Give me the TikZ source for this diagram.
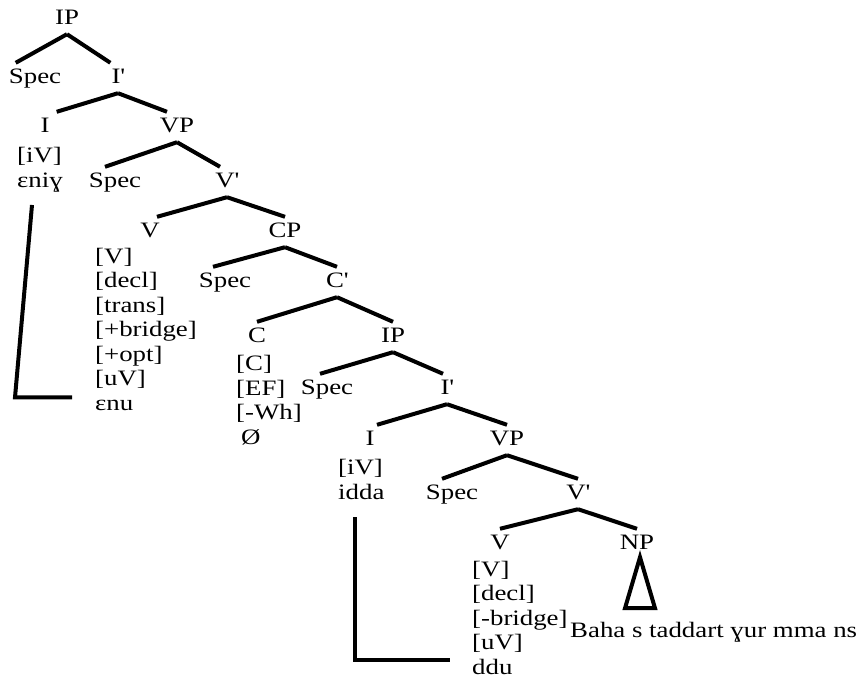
\documentclass[tikz,border=0pt]{standalone}
\usepackage{fontspec}
\setmainfont{Liberation Serif}[FakeStretch=1.22]
\usetikzlibrary{positioning}

\begin{document}
\begin{tikzpicture}[x=1pt, y=-1pt,
    every node/.style={font=\fontsize{22}{25}\selectfont},
    cat/.style={anchor=base, inner xsep=1pt, inner ysep=6pt, text height=14pt, text depth=4pt},
    feat/.style={anchor=base west, align=left, inner sep=0pt, font=\fontsize{22}{24.5}\selectfont},
    branch/.style={line width=4pt},
    trace/.style={line width=4pt}]
    \useasboundingbox (0,0) rectangle (861,680);

    % Category labels (top to bottom)
    \node[cat] (IPtop) at (67,24) {IP};
    \node[cat] (SpecA) at (35,83) {Spec};
    \node[cat] (IbarA) at (118,83) {I\textquotesingle};
    \node[cat] (IA) at (45,132) {I};
    \node[cat] (VPA) at (177,132) {VP};
    \node[cat] (SpecB) at (115,187) {Spec};
    \node[cat] (VbarA) at (227,187) {V\textquotesingle};
    \node[cat] (VA) at (150,237) {V};
    \node[cat] (CP) at (285,237) {CP};
    \node[cat] (SpecC) at (225,287) {Spec};
    \node[cat] (Cbar) at (337,287) {C\textquotesingle};
    \node[cat] (C) at (257,342) {C};
    \node[cat] (IPlow) at (393,342) {IP};
    \node[cat] (SpecD) at (327,394) {Spec};
    \node[cat] (IbarB) at (447,394) {I\textquotesingle};
    \node[cat] (IB) at (370,445) {I};
    \node[cat] (VPB) at (507,445) {VP};
    \node[cat] (SpecE) at (452,499) {Spec};
    \node[cat] (VbarB) at (578,499) {V\textquotesingle};
    \node[cat] (VB) at (500,549) {V};
    \node[cat] (NP) at (637,549) {NP};

    % Feature bundles under the heads (placed by their last line)
    \node[feat] (IAfeat) at (17,187) {{[iV]}\\ɛniɣ};
    \node[feat] (VAfeat) at (95,410) {{[V]}\\{[decl]}\\{[trans]}\\{[+bridge]}\\{[+opt]}\\{[uV]}\\ɛnu};
    \node[feat] (Cfeat) at (236,444) {{[C]}\\{[EF]}\\{[-Wh]}\\\hspace{5pt}Ø};
    \node[feat] (IBfeat) at (338,499) {{[iV]}\\idda};
    \node[feat] (VBfeat) at (472,674) {{[V]}\\{[decl]}\\{[-bridge]}\\{[uV]}\\ddu};
    \node[anchor=base west, inner sep=0pt] (NPtext) at (570,637) {Baha s taddart ɣur mma ns};

    % Branches
    \draw[branch] (IPtop.south) -- ([xshift=8pt]SpecA.north west);
    \draw[branch] (IPtop.south) -- (IbarA.north west);
    \draw[branch] (IbarA.south) -- ([xshift=6pt]IA.north east);
    \draw[branch] (IbarA.south) -- ([xshift=-10pt]VPA.north);
    \draw[branch] (VPA.south) -- ([xshift=-10pt]SpecB.north);
    \draw[branch] (VPA.south) -- ([xshift=-7pt]VbarA.north);
    \draw[branch] (VbarA.south) -- ([xshift=7pt]VA.north);
    \draw[branch] (VbarA.south) -- (CP.north);
    \draw[branch] (CP.south) -- ([xshift=-12pt]SpecC.north);
    \draw[branch] (CP.south) -- (Cbar.north);
    \draw[branch] (Cbar.south) -- (C.north);
    \draw[branch] (Cbar.south) -- (IPlow.north);
    \draw[branch] (IPlow.south) -- ([xshift=-7pt]SpecD.north);
    \draw[branch] (IPlow.south) -- ([xshift=-4pt]IbarB.north);
    \draw[branch] (IbarB.south) -- ([xshift=7pt]IB.north);
    \draw[branch] (IbarB.south) -- (VPB.north);
    \draw[branch] (VPB.south) -- ([xshift=-10pt]SpecE.north);
    \draw[branch] (VPB.south) -- (VbarB.north);
    \draw[branch] (VbarB.south) -- (VB.north);
    \draw[branch] (VbarB.south) -- (NP.north);

    % NP triangle
    \draw[branch] ([xshift=3pt,yshift=2pt]NP.south) -- ++(-15,51) -- ++(30,0) -- cycle;

    % Movement traces
    \draw[trace] ([shift={(15pt,-13pt)}]IAfeat.south west)
        -- ([shift={(-80pt,13pt)}]VAfeat.south west)
        -- ([shift={(-23pt,13pt)}]VAfeat.south west);
    \draw[trace] ([shift={(17pt,-18pt)}]IBfeat.south west)
        -- ([shift={(-117pt,14pt)}]VBfeat.south west)
        -- ([shift={(-22pt,14pt)}]VBfeat.south west);
\end{tikzpicture}
\end{document}
